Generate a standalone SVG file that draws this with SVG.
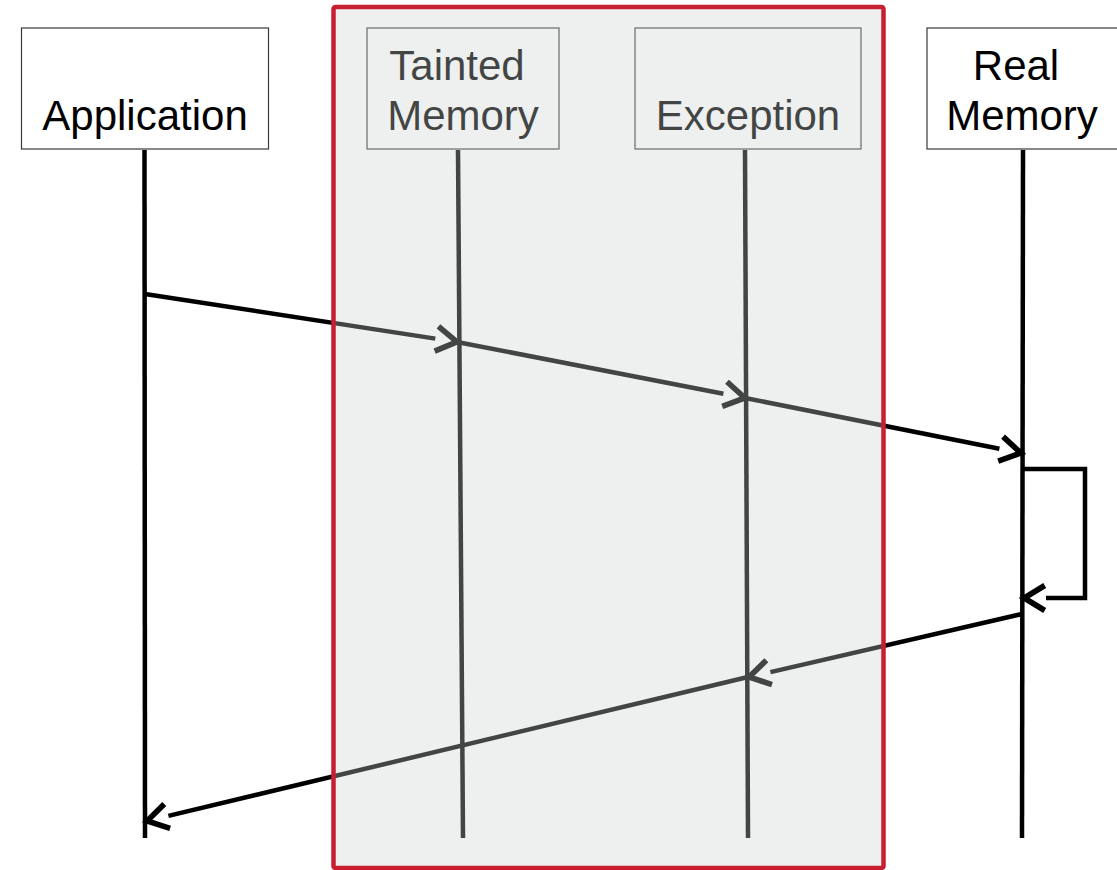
<svg xmlns="http://www.w3.org/2000/svg" width="1117" height="870" viewBox="0 0 1117 870">
  <style>
    .head { fill: #ffffff; stroke: #3a3a3a; stroke-width: 1.2; }
    .label { font-family: "Liberation Sans", Arial, sans-serif; font-size: 42px; fill: #000000; text-anchor: middle; }
    .life { stroke: #000000; stroke-width: 4.5; fill: none; }
    .msg { stroke: #000000; stroke-width: 4.5; fill: none; marker-end: url(#chevron); }
    .zone { fill: rgb(204,210,208); fill-opacity: 0.33; stroke: #c81e32; stroke-width: 4.5; }
  </style>
  <defs>
    <!-- open chevron arrowhead; the message line stops at its base -->
    <marker id="chevron" markerUnits="userSpaceOnUse" markerWidth="40" markerHeight="40" viewBox="-4 -16 32 32" refX="0" refY="0" orient="auto" overflow="visible">
      <path d="M1,-10 L17.5,0 L1,10" fill="none" stroke="#000000" stroke-width="4.5" stroke-linejoin="miter"/>
    </marker>
  </defs>

  <rect width="1117" height="870" fill="#ffffff"/>

  <g id="application">
    <rect class="head" x="21.5" y="28" width="247" height="121"/>
    <text class="label" x="145" y="130">Application</text>
    <line class="life" x1="144.5" y1="150" x2="145" y2="838"/>
  </g>

  <g id="tainted-memory">
    <rect class="head" x="367" y="28" width="192" height="121"/>
    <text class="label" x="457" y="80">Tainted</text>
    <text class="label" x="463" y="130">Memory</text>
    <line class="life" x1="458" y1="150" x2="463" y2="838"/>
  </g>

  <g id="exception">
    <rect class="head" x="635" y="28" width="226" height="121"/>
    <text class="label" x="748" y="130">Exception</text>
    <line class="life" x1="745" y1="150" x2="748" y2="838"/>
  </g>

  <g id="real-memory">
    <rect class="head" x="927" y="28" width="200" height="121"/>
    <text class="label" x="1016" y="80">Real</text>
    <text class="label" x="1022" y="130">Memory</text>
    <line class="life" x1="1023" y1="150" x2="1022" y2="838"/>
  </g>

  <g id="connectors">
    <path class="msg" d="M145,294 L435.3,338.6"/>
    <path class="msg" d="M457,342 L723.4,393.8"/>
    <path class="msg" d="M745,398 L999.4,448.7"/>
    <path class="msg" d="M1022,469 H1085 V598 H1046"/>
    <path class="msg" d="M1022,614 L770.4,672.1"/>
    <path class="msg" d="M748,677 L168.4,815.9"/>
  </g>

  <!-- translucent zone laid over the two middle lifelines -->
  <g id="tainted-zone">
    <rect class="zone" x="333.5" y="7" width="550" height="861" rx="2"/>
  </g>
</svg>
